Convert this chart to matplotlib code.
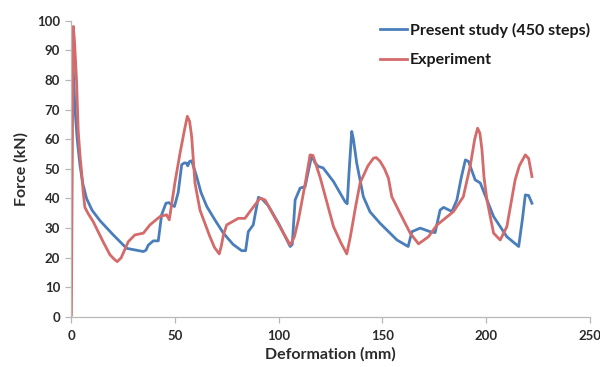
import numpy as np
import matplotlib
matplotlib.use("Agg")
import matplotlib.pyplot as plt

# Present study (450 steps)
study_x = [0.2, 0.8, 1.7, 2.8, 4.1, 5.5, 7.3, 10, 13.8, 20.2, 26.6, 31, 34.7,
           36, 37.1, 39.5, 41.9, 43.5, 45.6, 47, 48.4, 49.7, 51.5, 53.2, 54.5,
           55.6, 56.1, 57, 58, 59, 60.4, 62.5, 65.3, 69, 73.3, 78, 82.1, 84,
           85.3, 87.7, 89, 90.2, 92, 95, 100, 105.5, 106.5, 107.9, 110.3, 112.7,
           114.5, 115.9, 117.5, 119.1, 121.4, 126.4, 132, 133, 134, 135.2, 136,
           137.6, 140.8, 144, 148.9, 157, 162.4, 164.2, 168.2, 173, 175.4,
           177.8, 179.5, 183.5, 185.9, 188, 190, 191.5, 194.7, 197.2, 203.6,
           210, 215.7, 217.5, 218.9, 220.5, 222.1]
study_y = [94.3, 85, 70.5, 60, 51.4, 45, 40, 36, 32.5, 27.7, 23.2, 22.6, 22.1,
           22.6, 24.3, 25.7, 25.7, 34.5, 38.4, 38.6, 37.8, 37.3, 42, 51.4, 52,
           51.9, 51, 52.5, 52.7, 50.5, 47.4, 42, 37.3, 33, 28.3, 24.5, 22.4,
           22.4, 28.8, 31.1, 36, 40.4, 39.8, 37.5, 31.5, 23.8, 24.5, 39.5, 43.5,
           44, 50, 54.5, 52, 50.8, 50.3, 45.7, 38.9, 38.2, 50, 62.6, 60, 51.9,
           40.6, 35.5, 31.6, 26, 23.8, 28.8, 30, 28.8, 28.5, 36.1, 37, 35.6,
           39.5, 47, 53, 52.5, 46.3, 45.2, 33.9, 27.1, 23.8, 33, 41.2, 41, 38.4]

# Experiment
exp_x = [0, 0.5, 0.9, 1.5, 2.5, 3.3, 4.2, 4.9, 5.7, 6.5, 8, 10.5, 15.3, 18.6,
         21, 22.1, 24, 27.4, 30.6, 34.7, 37.9, 42.7, 45.9, 47.2, 50, 52.4, 54.5,
         55.9, 57, 58, 59, 59.6, 62, 66.8, 69, 71.3, 72.3, 73.3, 74.9, 80.5,
         83.7, 86.1, 91, 93.4, 97.4, 105.5, 107.5, 109.5, 113, 115.1, 116.5,
         120, 126.4, 130, 132.8, 134.5, 137, 139.2, 143, 145.7, 147, 148.9,
         151, 152.9, 154.5, 158.5, 163.4, 167.4, 172.2, 176.2, 184.3, 189,
         192.3, 194.5, 195.9, 197, 198, 199, 200.4, 203.6, 206.8, 210, 214,
         216, 218.9, 220.5, 222.1]
exp_y = [0.7, 60, 98, 93, 79.5, 62.6, 54, 49, 42, 37, 35, 32.2, 25.4, 21, 19.3,
         18.7, 20, 25.4, 27.7, 28.3, 31.1, 33.9, 34.5, 32.8, 45.7, 55.3, 63,
         67.7, 66, 60.9, 51, 45.2, 36.1, 27.1, 23.5, 21.3, 24, 27.7, 31.1, 33.3,
         33.3, 35.6, 40.1, 39.5, 34.4, 24.3, 27, 32.8, 46, 54.7, 54.5, 47, 30.5,
         25, 21.3, 27, 37, 45.2, 51, 53.6, 53.8, 52.5, 50, 46.8, 40.6, 35, 28.3,
         24.7, 27.1, 31, 35.6, 40.6, 50.8, 60, 63.7, 62, 56.4, 47, 39.5, 28.3,
         26, 30.5, 46.3, 51, 54.7, 53.5, 47.4]

plt.rcParams["font.family"] = ["Lato", "DejaVu Sans"]

fig = plt.figure(figsize=(6.0, 3.67), dpi=100)
ax = fig.add_axes([0.119, 0.136, 0.864, 0.808])

ax.plot(study_x, study_y, color="#4a7ebb", linewidth=2.0,
        solid_joinstyle="round", label="Present study (450 steps)")
ax.plot(exp_x, exp_y, color="#d46a69", linewidth=2.0,
        solid_joinstyle="round", label="Experiment")

ax.set_xlim(0, 250)
ax.set_ylim(0, 100)
ax.set_xticks(np.arange(0, 251, 50))
ax.set_yticks(np.arange(0, 101, 10))

for side in ["top", "right"]:
    ax.spines[side].set_visible(False)
for side in ["left", "bottom"]:
    ax.spines[side].set_color("#b8b8b8")
    ax.spines[side].set_linewidth(0.9)

ax.tick_params(axis="both", colors="#b8b8b8", length=4, width=0.9,
               labelcolor="#2b2b2b", labelsize=9.5)
for lbl in ax.get_xticklabels() + ax.get_yticklabels():
    lbl.set_fontweight("bold")
ax.tick_params(axis="x", pad=5)
ax.tick_params(axis="y", pad=4)

ax.set_xlabel("Deformation (mm)", fontsize=11.5, fontweight="bold",
              color="#2b2b2b", labelpad=4)
ax.set_ylabel("Force (kN)", fontsize=11.5, fontweight="bold",
              color="#2b2b2b", labelpad=6)

leg = ax.legend(loc="upper left", bbox_to_anchor=(372 / 600, 1 - 15 / 367),
                bbox_transform=fig.transFigure, frameon=False,
                handlelength=1.7, handletextpad=0.15, labelspacing=0.95,
                borderpad=0, prop={"weight": "bold", "size": 11.5})
for t in leg.get_texts():
    t.set_color("#1a1a1a")

fig.savefig("out.png", dpi=100)
